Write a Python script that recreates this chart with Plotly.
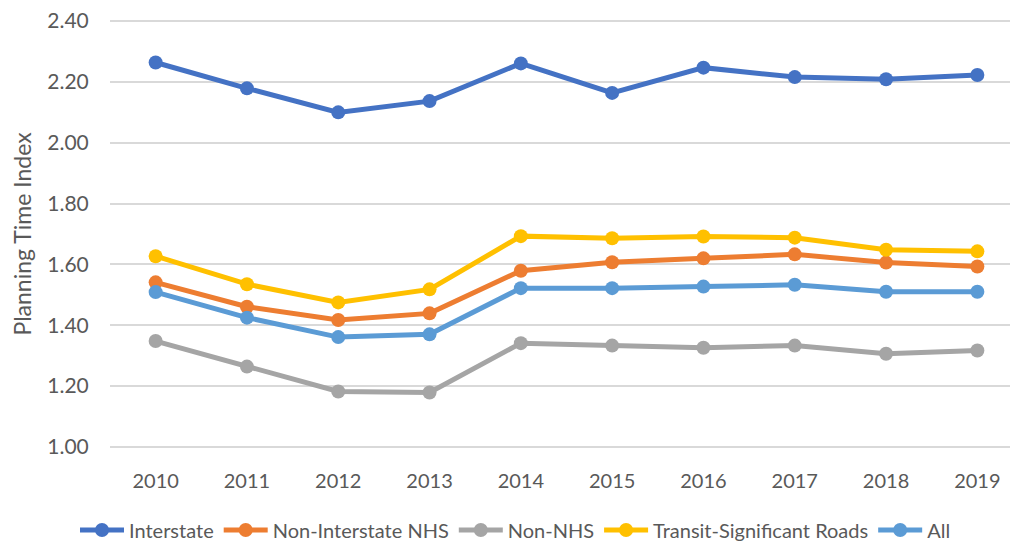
import plotly.graph_objects as go

years = ["2010", "2011", "2012", "2013", "2014", "2015", "2016", "2017", "2018", "2019"]

interstate = [2.264, 2.179, 2.100, 2.137, 2.261, 2.164, 2.247, 2.216, 2.209, 2.223]
non_interstate_nhs = [1.541, 1.461, 1.417, 1.439, 1.579, 1.607, 1.620, 1.633, 1.606, 1.593]
non_nhs = [1.348, 1.264, 1.182, 1.179, 1.341, 1.333, 1.326, 1.333, 1.306, 1.317]
transit_roads = [1.627, 1.535, 1.475, 1.518, 1.693, 1.686, 1.692, 1.688, 1.648, 1.643]
all_roads = [1.509, 1.425, 1.361, 1.370, 1.522, 1.522, 1.527, 1.533, 1.510, 1.510]

series = [
    ("Interstate", interstate, "#4472C4"),
    ("Non-Interstate NHS", non_interstate_nhs, "#ED7D31"),
    ("Non-NHS", non_nhs, "#A5A5A5"),
    ("Transit-Significant Roads", transit_roads, "#FFC000"),
    ("All", all_roads, "#5B9BD5"),
]

fig = go.Figure()
for name, vals, color in series:
    fig.add_trace(go.Scatter(
        x=years, y=vals, name=name, mode="lines+markers",
        line=dict(color=color, width=5),
        marker=dict(color=color, size=14),
    ))

font_color = "#595959"
# the page body has an 8px margin, so the figure is shifted by 8px
# y range padded a little so plotly keeps the 1.00 / 2.40 gridlines
fig.update_layout(
    width=1015, height=536,
    margin=dict(l=102, r=0, t=11, b=95),
    plot_bgcolor="white", paper_bgcolor="white",
    font=dict(family="Lato, Liberation Sans, sans-serif", color=font_color, size=20),
    showlegend=True,
    legend=dict(
        orientation="h", xref="container", yref="container",
        x=0.50, xanchor="center", y=0.026, yanchor="middle",
        font=dict(size=20), tracegroupgap=0, itemwidth=44,
    ),
    xaxis=dict(
        type="category", range=[-0.5, 9.5],
        showgrid=False, showline=False, zeroline=False,
        ticks="outside", ticklen=14, tickcolor="rgba(0,0,0,0)",
        tickfont=dict(size=20),
    ),
    yaxis=dict(
        range=[0.993, 2.407], dtick=0.2, tick0=1.0, tickformat=".2f",
        showgrid=True, gridcolor="#D9D9D9", gridwidth=1.5,
        zeroline=False, showline=False, automargin=False,
        ticks="outside", ticklen=16, tickcolor="rgba(0,0,0,0)",
        tickfont=dict(size=21), ticklabeloverflow="allow",
        title=dict(text="Planning Time Index", font=dict(size=23)),
    ),
)

fig.write_html("out.html")
